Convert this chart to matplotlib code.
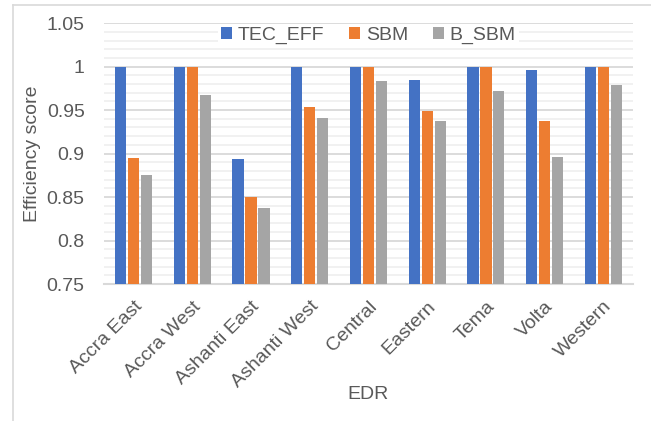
import matplotlib.pyplot as plt
import matplotlib
import numpy as np
from matplotlib.ticker import MultipleLocator, FuncFormatter
from matplotlib.lines import Line2D

matplotlib.rcParams['font.family'] = ['Liberation Sans', 'DejaVu Sans']

edr = ['Accra East', 'Accra West', 'Ashanti East', 'Ashanti West', 'Central',
       'Eastern', 'Tema', 'Volta', 'Western']
tec_eff = [1.0, 1.0, 0.894, 1.0, 1.0, 0.985, 1.0, 0.996, 1.0]
sbm = [0.895, 1.0, 0.850, 0.954, 1.0, 0.949, 1.0, 0.937, 1.0]
b_sbm = [0.875, 0.967, 0.837, 0.941, 0.983, 0.937, 0.972, 0.896, 0.979]

series = [('TEC_EFF', tec_eff, '#4472c4'),
          ('SBM', sbm, '#ed7d31'),
          ('B_SBM', b_sbm, '#a5a5a5')]

text_col = '#595959'

fig = plt.figure(figsize=(6.51, 4.21), dpi=100)
ax = fig.add_axes([0.16, 0.3254, 0.812, 0.6196])

x = np.arange(len(edr))
w = 0.19
step = 0.221
for i, (name, vals, col) in enumerate(series):
    ax.bar(x + (i - 1) * step, np.array(vals) - 0.75, w, bottom=0.75,
           color=col, label=name, zorder=3)

ax.set_xlim(-0.5, len(edr) - 0.5)
ax.set_ylim(0.75, 1.05)
ax.yaxis.set_major_locator(MultipleLocator(0.05))
ax.yaxis.set_minor_locator(MultipleLocator(0.01))
ax.yaxis.set_major_formatter(FuncFormatter(lambda v, p: ('%.2f' % v).rstrip('0').rstrip('.')))
ax.grid(axis='y', which='major', color='#d9d9d9', lw=1.3, zorder=0)
ax.grid(axis='y', which='minor', color='#f0f0f0', lw=1.3, zorder=0)

for s in ['top', 'right', 'left']:
    ax.spines[s].set_visible(False)
ax.spines['bottom'].set_color('#d9d9d9')
ax.spines['bottom'].set_linewidth(1.5)

ax.tick_params(axis='both', which='both', length=0, colors=text_col, labelsize=14)
ax.tick_params(axis='y', pad=14)
ax.tick_params(axis='x', pad=10)
ax.set_xticks(x)
ax.set_xticklabels(edr, rotation=45, ha='right', rotation_mode='anchor')

ax.set_ylabel('Efficiency score', color=text_col, fontsize=14, labelpad=4)
ax.set_xlabel('EDR', color=text_col, fontsize=14, labelpad=-4)

leg = ax.legend(loc='upper center', bbox_to_anchor=(0.5, 1.035), ncol=3, frameon=True,
                facecolor='white', edgecolor='none', framealpha=1,
                fontsize=14, handlelength=0.55, handleheight=0.55, handletextpad=0.3,
                columnspacing=1.3, borderpad=0.15)
for t in leg.get_texts():
    t.set_color(text_col)

# outer chart border
fig.add_artist(Line2D([13 / 651, 13 / 651], [0, 1 - 5 / 421], transform=fig.transFigure,
                      color='#d9d9d9', lw=1.2))
fig.add_artist(Line2D([13 / 651, 1], [1 - 5 / 421, 1 - 5 / 421], transform=fig.transFigure,
                      color='#d9d9d9', lw=1.2))

plt.savefig('out.png', dpi=100)
